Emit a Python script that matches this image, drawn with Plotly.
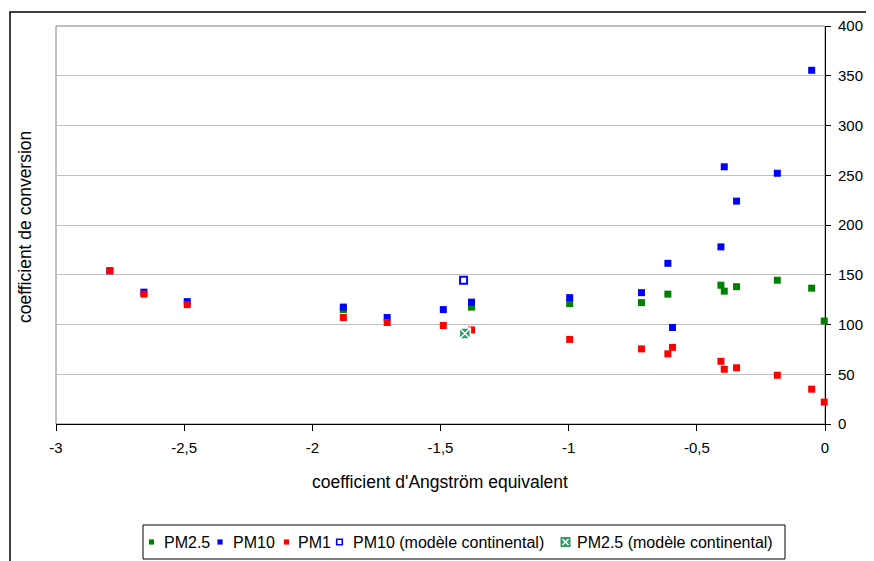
import plotly.graph_objects as go

# --- data ---
pm25_x = [-1.879, -1.379, -0.996, -0.716, -0.613, -0.406, -0.393, -0.345, -0.186, -0.052, -0.003]
pm25_y = [115, 117.5, 121, 122, 130.5, 139.5, 133.5, 138, 144.5, 136.5, 103.5]

pm10_x = [-2.79, -2.657, -2.488, -1.879, -1.708, -1.489, -1.379, -0.996, -0.716, -0.613, -0.595,
          -0.406, -0.393, -0.345, -0.186, -0.052]
pm10_y = [154, 132.5, 123, 117.5, 107, 115, 122.5, 127, 132, 161.5, 97,
          178, 258.5, 224, 252, 355.5]

pm1_x = [-2.79, -2.657, -2.488, -1.879, -1.708, -1.489, -1.379, -0.996, -0.716, -0.613, -0.595,
         -0.406, -0.393, -0.345, -0.186, -0.052, -0.003]
pm1_y = [154, 130.5, 120, 107, 102, 99, 94.5, 85, 75.5, 70.5, 77,
         63, 55, 56.5, 49, 35, 22]

pm10_cont_x = [-1.410]
pm10_cont_y = [144.5]
pm25_cont_x = [-1.405]
pm25_cont_y = [91]

series_names = ["PM2.5", "PM10", "PM1", "PM10 (modèle continental)", "PM2.5 (modèle continental)"]
series_colors = ["#008000", "#0000FF", "#FF0000", "#0000FF", "#339966"]

x_ticks = [-3, -2.5, -2, -1.5, -1, -0.5, 0]
x_ticktext = ["-3", "-2,5", "-2", "-1,5", "-1", "-0,5", "0"]
y_ticks = [0, 50, 100, 150, 200, 250, 300, 350, 400]

FONT = "Liberation Sans, Arial, sans-serif"

# figure drawn in a page with 8px body margin -> 866 x 553 visible
W, H = 866, 553
PL, PR, PT, PB = 48, 817, 18, 416   # plot area in figure pixels


def fx(p):
    return p / W


def fy(p):
    return 1 - p / H


fig = go.Figure()
fig.add_trace(go.Scatter(x=pm25_x, y=pm25_y, mode="markers", name=series_names[0],
                         marker=dict(symbol="square", size=7, color=series_colors[0], line=dict(width=0)),
                         cliponaxis=False))
fig.add_trace(go.Scatter(x=pm10_x, y=pm10_y, mode="markers", name=series_names[1],
                         marker=dict(symbol="square", size=7, color=series_colors[1], line=dict(width=0)),
                         cliponaxis=False))
fig.add_trace(go.Scatter(x=pm1_x, y=pm1_y, mode="markers", name=series_names[2],
                         marker=dict(symbol="square", size=7, color=series_colors[2], line=dict(width=0)),
                         cliponaxis=False))
fig.add_trace(go.Scatter(x=pm10_cont_x, y=pm10_cont_y, mode="markers", name=series_names[3],
                         marker=dict(symbol="square-open", size=7, color=series_colors[3], line=dict(width=2)),
                         cliponaxis=False))
fig.add_trace(go.Scatter(x=pm25_cont_x, y=pm25_cont_y, mode="markers", name=series_names[4],
                         marker=dict(symbol="square-x", size=11, color=series_colors[4],
                                     line=dict(width=1.5, color="white")),
                         cliponaxis=False))

shapes = [
    # plot-area frame
    dict(type="rect", xref="paper", yref="paper", x0=fx(PL), x1=fx(PR), y0=fy(PB), y1=fy(PT),
         line=dict(color="#808080", width=1), layer="below"),
    # chart outer frame
    dict(type="rect", xref="paper", yref="paper", x0=fx(2), x1=fx(900), y0=fy(600), y1=fy(4),
         line=dict(color="black", width=1.5), layer="below"),
    # legend box
    dict(type="rect", xref="paper", yref="paper", x0=fx(135), x1=fx(777), y0=fy(551), y1=fy(517),
         line=dict(color="black", width=1), fillcolor="white", layer="above"),
]
annotations = [
    dict(text="coefficient de conversion", xref="paper", yref="paper",
         x=fx(17), y=fy(219), textangle=-90, showarrow=False,
         xanchor="center", yanchor="middle", font=dict(size=17.5)),
    dict(text="coefficient d'Angström equivalent", xref="paper", yref="paper",
         x=fx(432), y=fy(474), showarrow=False,
         xanchor="center", yanchor="middle", font=dict(size=17.5)),
]

# legend (drawn as layout items)
leg_cy = 534
marker_x = [143.5, 212, 278.5, 331.5, 557.5]
text_x = [156, 225, 289.5, 344.5, 569]
for i, name in enumerate(series_names):
    mx = marker_x[i]
    if i < 3:
        s = 2.6
        shapes.append(dict(type="rect", xref="paper", yref="paper",
                           x0=fx(mx - s), x1=fx(mx + s), y0=fy(leg_cy + s), y1=fy(leg_cy - s),
                           line=dict(width=0), fillcolor=series_colors[i], layer="above"))
    elif i == 3:
        s = 2.8
        shapes.append(dict(type="rect", xref="paper", yref="paper",
                           x0=fx(mx - s), x1=fx(mx + s), y0=fy(leg_cy + s), y1=fy(leg_cy - s),
                           line=dict(width=1.6, color=series_colors[i]), fillcolor="white", layer="above"))
    else:
        s = 5
        shapes.append(dict(type="rect", xref="paper", yref="paper",
                           x0=fx(mx - s), x1=fx(mx + s), y0=fy(leg_cy + s), y1=fy(leg_cy - s),
                           line=dict(width=0), fillcolor=series_colors[i], layer="above"))
        d = 3
        shapes.append(dict(type="line", xref="paper", yref="paper",
                           x0=fx(mx - d), x1=fx(mx + d), y0=fy(leg_cy + d), y1=fy(leg_cy - d),
                           line=dict(width=1.5, color="white"), layer="above"))
        shapes.append(dict(type="line", xref="paper", yref="paper",
                           x0=fx(mx - d), x1=fx(mx + d), y0=fy(leg_cy - d), y1=fy(leg_cy + d),
                           line=dict(width=1.5, color="white"), layer="above"))
    annotations.append(dict(text=name, xref="paper", yref="paper", x=fx(text_x[i]), y=fy(leg_cy),
                            xanchor="left", yanchor="middle", showarrow=False,
                            font=dict(size=16), xshift=-2))

fig.update_layout(
    width=W, height=H,
    margin=dict(l=0, r=0, t=0, b=0, autoexpand=False),
    paper_bgcolor="white", plot_bgcolor="white",
    font=dict(family=FONT, size=15, color="black"),
    showlegend=False,
    xaxis=dict(domain=[fx(PL), fx(PR)], range=[-3, 0], tickvals=x_ticks, ticktext=x_ticktext,
               showgrid=False, zeroline=False, showline=True, linecolor="black", linewidth=1,
               ticks="outside", ticklen=6, tickcolor="black", layer="below traces",
               tickfont=dict(size=15), automargin=False, ticklabelstandoff=4),
    yaxis=dict(domain=[fy(PB), fy(PT)], range=[0, 400], tickvals=y_ticks, side="right",
               showgrid=True, gridcolor="#C0C0C0", gridwidth=1, zeroline=False,
               showline=True, linecolor="black", linewidth=1,
               ticks="outside", ticklen=5, tickcolor="black", layer="below traces",
               tickfont=dict(size=15), automargin=False, ticklabelstandoff=4),
    shapes=shapes,
    annotations=annotations,
)

fig.write_html("out.html")
